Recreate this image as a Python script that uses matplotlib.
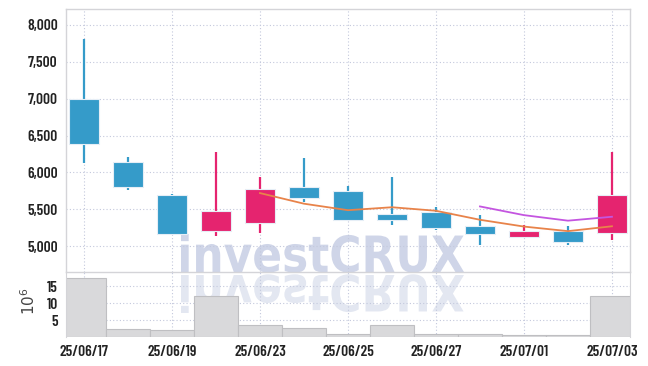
import numpy as np
import pandas as pd
import matplotlib
matplotlib.use("Agg")
import matplotlib.pyplot as plt
from matplotlib.textpath import TextPath
from matplotlib.patches import PathPatch
from matplotlib.font_manager import FontProperties
from matplotlib.transforms import Affine2D, IdentityTransform
import matplotlib.ticker as mticker

# data
dates = ["25/06/17", "25/06/18", "25/06/19", "25/06/20", "25/06/23", "25/06/24",
         "25/06/25", "25/06/26", "25/06/27", "25/06/30", "25/07/01", "25/07/02", "25/07/03"]
opens = [7000, 6140, 5700, 5200, 5310, 5800, 5750, 5440, 5460, 5280, 5120, 5200, 5180]
highs = [7810, 6210, 5710, 6280, 5940, 6190, 5810, 5940, 5530, 5420, 5290, 5280, 6280]
lows = [6130, 5760, 5150, 5140, 5180, 5600, 5340, 5290, 5220, 5010, 5110, 5020, 5090]
closes = [6380, 5800, 5160, 5480, 5780, 5660, 5360, 5360, 5240, 5170, 5200, 5050, 5690]
volume = [17.6, 2.3, 2.0, 12.2, 3.5, 2.6, 0.9, 3.5, 0.9, 0.9, 0.6, 0.6, 12.1]  # x 10^6

UP = "#e5246f"
DOWN = "#359bc9"
GRID = "#c3c8dc"
SPINE = "#d4d4d8"

df = pd.DataFrame({"open": opens, "high": highs, "low": lows, "close": closes, "vol": volume})
ma5 = df["close"].rolling(5).mean()
ma10 = df["close"].rolling(10).mean()
x = np.arange(len(df))

W, H = 648, 366
fig = plt.figure(figsize=(W / 100, H / 100), dpi=100)
fig.patch.set_facecolor("white")

lab_fp = FontProperties(family=["Barlow Condensed", "DejaVu Sans"], weight=600, size=11)

ax = fig.add_axes([66 / W, 1 - 272 / H, (630 - 66) / W, (272 - 9) / H])
axv = fig.add_axes([66 / W, 1 - 337 / H, (630 - 66) / W, (337 - 272) / H], sharex=ax)
for a in (ax, axv):
    a.set_facecolor("none")

# watermark with reflection, behind the axes
fp = FontProperties(family="DejaVu Sans", weight="bold")
tp = TextPath((0, 0), "investCRUX", size=1, prop=fp)
bb = tp.get_extents()
x0, x1 = 181, 464
base = H - 272
top = H - 234
sx = (x1 - x0) / bb.width
sy = (top - base) / bb.y1
t_main = Affine2D().translate(-bb.x0, 0).scale(sx, sy).translate(x0, base)
fig.patches.append(PathPatch(tp, transform=t_main + IdentityTransform(),
                             facecolor="#cfd5e8", edgecolor="none", zorder=-5))
t_refl = Affine2D().translate(-bb.x0, 0).scale(sx, -sy).translate(x0, base - 3)
fig.patches.append(PathPatch(tp, transform=t_refl + IdentityTransform(),
                             facecolor="#e3e7f1", edgecolor="none", zorder=-5))

# candles
for i, r in df.iterrows():
    col = UP if r["close"] >= r["open"] else DOWN
    ax.vlines(i, r["low"], r["high"], color=col, lw=1.6, zorder=3)
    lo = min(r["open"], r["close"])
    ax.bar(i, abs(r["close"] - r["open"]), bottom=lo, width=0.68, color=col,
           edgecolor="#e6eef6", linewidth=0.8, zorder=4)

ax.plot(x, ma5, color="#e8834a", lw=1.3, zorder=5)
ax.plot(x, ma10, color="#c455e0", lw=1.3, zorder=5)

ax.set_xlim(-0.41, 12.41)
ax.set_ylim(4650, 8216)
ax.set_yticks(np.arange(5000, 8001, 500))
ax.yaxis.set_major_formatter(mticker.FuncFormatter(lambda v, p: f"{int(v):,}"))
ax.set_xticks(x[::2])
ax.grid(True, color=GRID, linestyle=(0, (1, 2)), lw=0.8)
ax.set_axisbelow(True)
ax.tick_params(length=0, labelbottom=False, pad=6)
for s in ax.spines.values():
    s.set_color(SPINE)
    s.set_linewidth(1)

# volume
axv.bar(x, df["vol"], width=1.0, color="#d9d9db", edgecolor="#bfbfc2", lw=0.8, zorder=2)
axv.set_ylim(0, 19.3)
axv.set_yticks([5, 10, 15])
axv.set_xticks(x[::2])
axv.set_xticklabels(dates[::2])
axv.grid(True, color=GRID, linestyle=(0, (1, 2)), lw=0.8, zorder=0)
axv.set_axisbelow(True)
axv.tick_params(length=0, pad=6)
for s in ["top", "bottom"]:
    axv.spines[s].set_visible(False)
for s in ["left", "right"]:
    axv.spines[s].set_color(SPINE)
axv.set_ylabel("$10^6$", fontsize=11, color="#444444")
axv.yaxis.set_label_coords(-0.05, 0.55)

for lbl in ax.get_yticklabels() + axv.get_yticklabels() + axv.get_xticklabels():
    lbl.set_fontproperties(lab_fp)
    lbl.set_color("#222222")

fig.savefig("out.png", dpi=100)
